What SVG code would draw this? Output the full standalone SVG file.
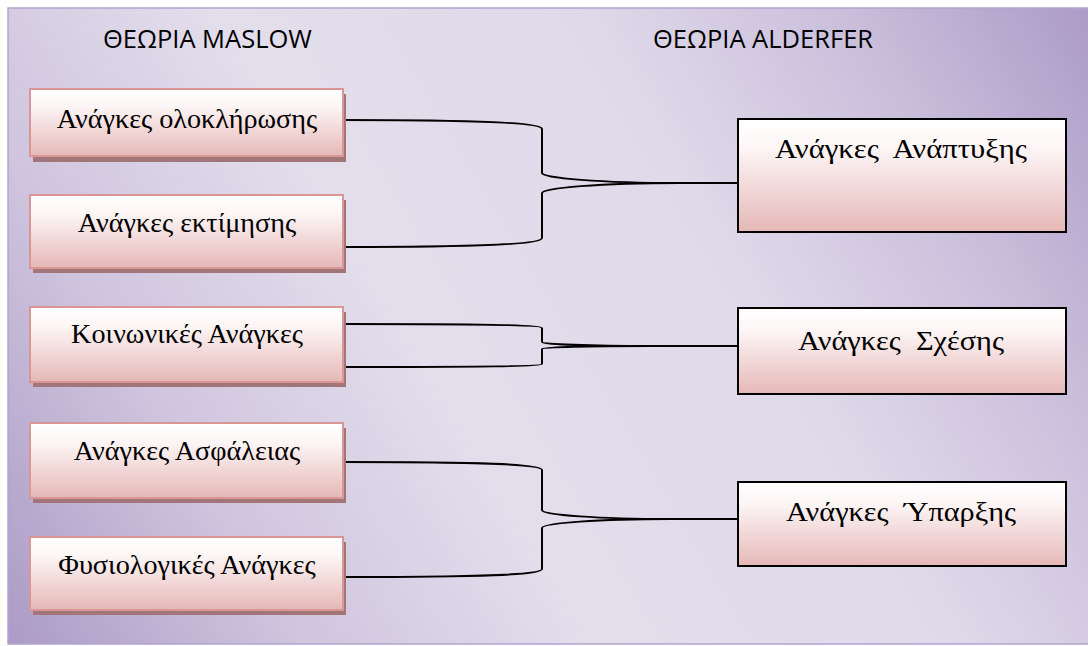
<svg xmlns="http://www.w3.org/2000/svg" width="1088" height="646" viewBox="0 0 1088 646">
  <defs>
    <linearGradient id="bg" gradientUnits="userSpaceOnUse" x1="1088" y1="0" x2="8" y2="644">
      <stop offset="0" stop-color="#ab9bc6"/>
      <stop offset="0.18" stop-color="#cbc0dc"/>
      <stop offset="0.35" stop-color="#dfd9e9"/>
      <stop offset="0.6" stop-color="#e3deec"/>
      <stop offset="0.8" stop-color="#cfc5de"/>
      <stop offset="1" stop-color="#ab9bc6"/>
    </linearGradient>
    <linearGradient id="pink" x1="0" y1="0" x2="0" y2="1">
      <stop offset="0" stop-color="#ffffff"/>
      <stop offset="0.25" stop-color="#fdf6f6"/>
      <stop offset="1" stop-color="#e5b8b7"/>
    </linearGradient>
    <style>
      .title { font-family: "Open Sans", "Liberation Sans", sans-serif; font-size: 25.5px; fill: #000; }
      .lbl { font-family: "Liberation Serif", "DejaVu Serif", serif; font-size: 28.2px; fill: #000; text-anchor: middle; }
      .lbox { fill: url(#pink); stroke: #d99694; stroke-width: 2; }
      .shadow { fill: #a27679; }
      .rbox { fill: url(#pink); stroke: #000; stroke-width: 2; }
      .conn { fill: none; stroke: #000; stroke-width: 2; }
    </style>
  </defs>

  <rect x="8" y="8" width="1084" height="636" fill="url(#bg)" stroke="#b3a4cf" stroke-width="1.5"/>

  <text class="title" x="103" y="48">ΘΕΩΡΙΑ MASLOW</text>
  <text class="title" x="653" y="48">ΘΕΩΡΙΑ ALDERFER</text>

  <g id="connectors">
    <path class="conn" d="M343,120 C480,120 542,123 542,129 L542,173 C542,178 600,183 680,183 L738,183"/>
    <path class="conn" d="M343,247 C480,247 542,244 542,238 L542,193 C542,188 600,183 680,183"/>
    <path class="conn" d="M343,324 C480,324 542,325 542,328 L542,342 C542,344 590,346 650,346 L738,346"/>
    <path class="conn" d="M343,367 C480,367 542,366 542,364 L542,349 C542,347 590,346 650,346"/>
    <path class="conn" d="M343,462 C480,462 542,464 542,470 L542,510 C542,515 600,519 670,519 L738,519"/>
    <path class="conn" d="M343,577 C480,577 542,575 542,569 L542,528 C542,523 600,519 670,519"/>
  </g>

  <g id="m1">
    <rect class="shadow" x="33" y="94" width="313" height="68"/>
    <rect class="lbox" x="30" y="89" width="313" height="67"/>
    <text class="lbl" x="187" y="128">Ανάγκες ολοκλήρωσης</text>
  </g>
  <g id="m2">
    <rect class="shadow" x="33" y="200" width="313" height="73"/>
    <rect class="lbox" x="30" y="195" width="313" height="73"/>
    <text class="lbl" x="187" y="232">Ανάγκες εκτίμησης</text>
  </g>
  <g id="m3">
    <rect class="shadow" x="33" y="312" width="313" height="75"/>
    <rect class="lbox" x="30" y="307" width="313" height="75"/>
    <text class="lbl" x="187" y="343">Κοινωνικές Ανάγκες</text>
  </g>
  <g id="m4">
    <rect class="shadow" x="33" y="428" width="313" height="75"/>
    <rect class="lbox" x="30" y="423" width="313" height="75"/>
    <text class="lbl" x="187" y="460">Ανάγκες Ασφάλειας</text>
  </g>
  <g id="m5">
    <rect class="shadow" x="33" y="542" width="313" height="73"/>
    <rect class="lbox" x="30" y="537" width="313" height="73"/>
    <text class="lbl" x="187" y="574">Φυσιολογικές Ανάγκες</text>
  </g>

  <g id="a1">
    <rect class="rbox" x="738" y="119" width="328" height="113"/>
    <text class="lbl" x="901" y="158" xml:space="preserve" textLength="252" lengthAdjust="spacingAndGlyphs">Ανάγκες  Ανάπτυξης</text>
  </g>
  <g id="a2">
    <rect class="rbox" x="738" y="308" width="328" height="86"/>
    <text class="lbl" x="901" y="350" xml:space="preserve" textLength="206" lengthAdjust="spacingAndGlyphs">Ανάγκες  Σχέσης</text>
  </g>
  <g id="a3">
    <rect class="rbox" x="738" y="482" width="328" height="84"/>
    <text class="lbl" x="901" y="521" xml:space="preserve" textLength="230" lengthAdjust="spacingAndGlyphs">Ανάγκες  Ύπαρξης</text>
  </g>
</svg>
